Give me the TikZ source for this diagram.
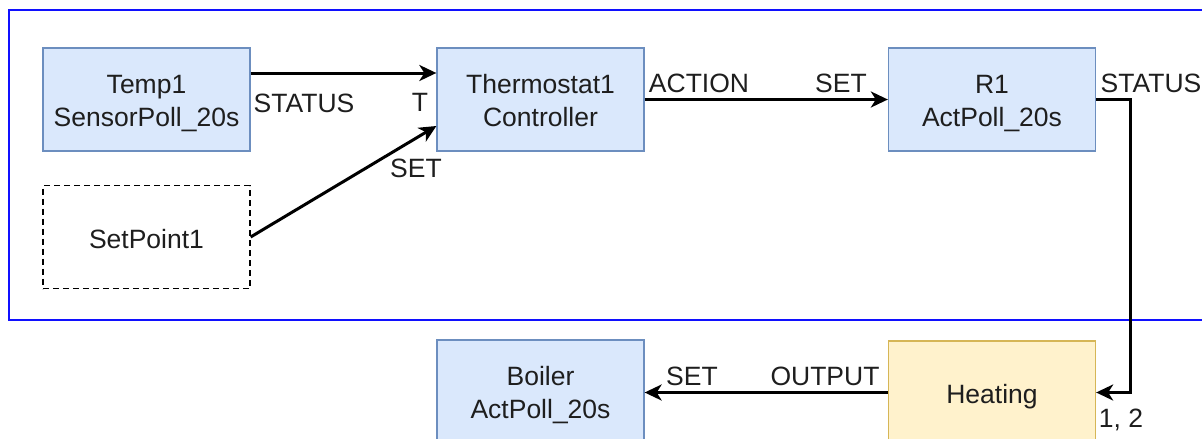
\documentclass[tikz,border=0pt]{standalone}
\usepackage{fontspec}
\setmainfont{Liberation Sans}
\usetikzlibrary{arrows.meta}
\definecolor{bfill}{HTML}{DAE8FC}
\definecolor{bstroke}{HTML}{6C8EBF}
\definecolor{yfill}{HTML}{FFF2CC}
\definecolor{ystroke}{HTML}{D6B656}
\definecolor{frameblue}{HTML}{1010FF}
\definecolor{txt}{HTML}{1E1E1E}
\begin{document}
\begin{tikzpicture}[x=1pt,y=-1pt,
  box/.style={draw=bstroke, fill=bfill, line width=1.3pt, minimum width=207pt, minimum height=103pt,
    inner sep=0pt, align=center, font=\fontsize{26.5}{33}\selectfont, text=txt,
    text height=59pt, text depth=6pt},
  onebox/.style={text height=26pt, text depth=4pt},
  ybox/.style={box, onebox, draw=ystroke, fill=yfill},
  dbox/.style={box, onebox, draw=black, fill=white, dash pattern=on 6pt off 4pt},
  conn/.style={line width=3pt, -{Stealth[length=17pt,width=16pt,inset=5pt]}},
  lbl/.style={anchor=base, inner sep=0pt, font=\fontsize{26.5}{33}\selectfont, text=txt}]
\useasboundingbox (0,0) rectangle (1202,439);
\clip (0,0) rectangle (1202,439);
\draw[frameblue, line width=1.8pt] (9,10) rectangle (1230,320);
\node[box] (temp) at (146.5,99.5) {Temp1\\SensorPoll\_20s};
\node[dbox] (setp) at (146.5,237) {SetPoint1};
\node[box] (thermo) at (540.5,99.5) {Thermostat1\\Controller};
\node[box] (r1) at (992,99.5) {R1\\ActPoll\_20s};
\node[ybox] (heat) at (992,392.5) {Heating};
\node[box] (boiler) at (540.5,391.5) {Boiler\\ActPoll\_20s};
\draw[conn] ([yshift=26.5pt]temp.east) -- ([yshift=26.5pt]thermo.west);
\draw[conn] (setp.east) -- ([yshift=-26.5pt]thermo.west);
\draw[conn] (thermo.east) -- (r1.west);
\draw[conn] (r1.east) -- ++(34,0) |- (heat.east);
\draw[conn] (heat.west) -- (heat.west -| boiler.east);
\node[lbl] (l1) at (304,112) {STATUS};
\node[lbl] (l2) at (420,111) {T};
\node[lbl] (l3) at (416,177) {SET};
\node[lbl] (l4) at (699,92) {ACTION};
\node[lbl] (l5) at (841,92) {SET};
\node[lbl] (l6) at (1151,92) {STATUS};
\node[lbl] (l7) at (1121,427) {1, 2};
\node[lbl] (l8) at (692,385) {SET};
\node[lbl] (l9) at (825,385) {OUTPUT};
\end{tikzpicture}
\end{document}
